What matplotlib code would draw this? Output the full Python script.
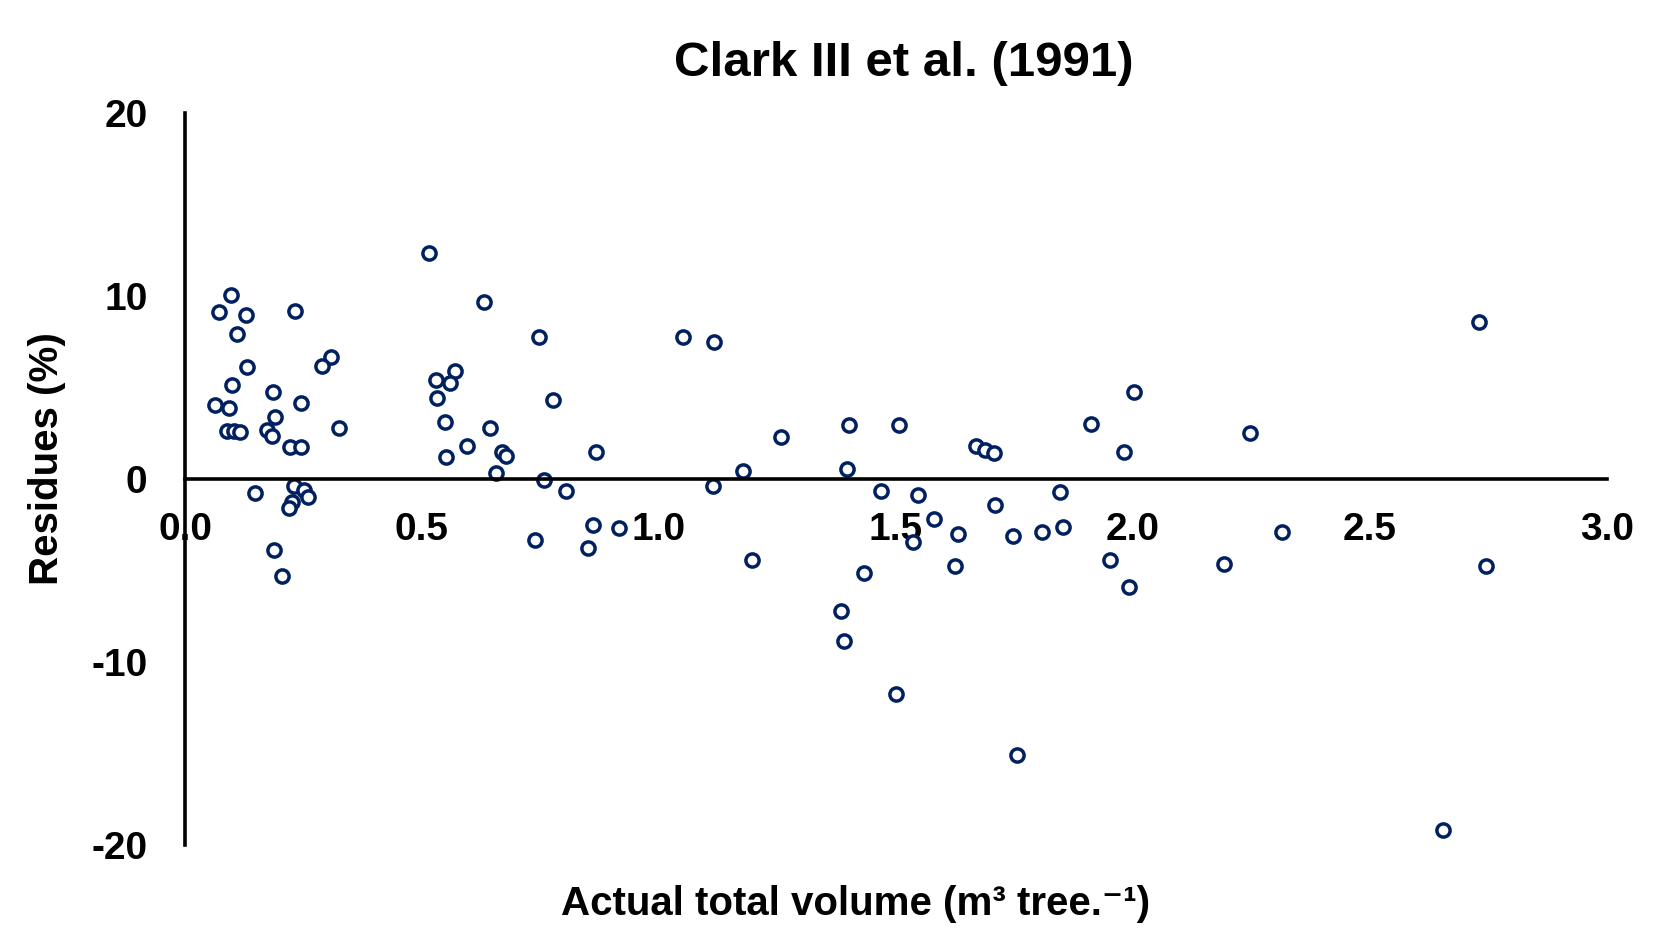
import matplotlib
matplotlib.use("Agg")
import matplotlib.pyplot as plt
from matplotlib.ticker import FormatStrFormatter

plt.rcParams['font.family'] = ['Liberation Sans', 'DejaVu Sans']
plt.rcParams['font.weight'] = 'bold'
plt.rcParams['axes.unicode_minus'] = False

title = "Clark III et al. (1991)"
xlabel = "Actual total volume (m³ tree.⁻¹)"
ylabel = "Residues (%)"

volume = [
    0.515, 0.096, 0.071, 0.128, 0.232, 0.109, 0.630, 0.747, 0.131, 0.307,
    0.290, 0.100, 0.569, 0.530, 0.560, 0.186, 0.532, 0.776, 0.064, 0.092,
    0.245, 0.189, 0.324, 0.549, 0.643, 0.089, 0.103, 0.117, 0.172, 0.183,
    0.595, 0.222, 0.244, 0.550, 0.668, 0.677, 0.868, 0.657, 0.757, 0.803,
    0.148, 0.229, 0.250, 0.259, 0.225, 0.220, 0.860, 0.916, 0.738, 0.851,
    0.188, 0.204,
    1.050, 1.117, 1.257, 1.401, 1.507, 1.668, 1.687, 1.707, 1.178, 1.396,
    1.114, 1.469, 1.546, 1.709, 1.580, 1.809, 1.630, 1.747, 1.536, 1.196,
    1.625, 1.433, 1.384, 1.390, 1.500, 1.755,
    1.847, 1.853, 1.912, 1.982, 2.003, 1.951, 1.992, 2.192, 2.247, 2.314,
    2.653, 2.731, 2.745,
]
residues = [
    12.36, 10.07, 9.14, 8.95, 9.19, 7.95, 9.68, 7.77, 6.13, 6.68,
    6.18, 5.16, 5.90, 5.40, 5.27, 4.78, 4.40, 4.31, 4.07, 3.88,
    4.14, 3.39, 2.81, 3.09, 2.76, 2.61, 2.61, 2.57, 2.67, 2.34,
    1.83, 1.77, 1.77, 1.22, 1.48, 1.24, 1.48, 0.35, -0.07, -0.65,
    -0.76, -0.38, -0.62, -0.98, -1.25, -1.56, -2.53, -2.68, -3.35, -3.75,
    -3.90, -5.32,
    7.77, 7.50, 2.29, 2.93, 2.93, 1.80, 1.56, 1.41, 0.43, 0.53,
    -0.37, -0.63, -0.88, -1.43, -2.21, -2.87, -3.01, -3.11, -3.44, -4.45,
    -4.77, -5.14, -7.23, -8.87, -11.74, -15.10,
    -0.73, -2.63, 2.98, 1.49, 4.75, -4.45, -5.92, -4.65, 2.51, -2.88,
    -19.2, 8.59, -4.75,
]
xticks = [0.0, 0.5, 1.0, 1.5, 2.0, 2.5, 3.0]
yticks = [-20, -10, 0, 10, 20]

W, H = 1657, 943
fig = plt.figure(figsize=(W / 100, H / 100), dpi=100)
ax = fig.add_axes([185 / W, 1 - 845 / H, (1607 - 185) / W, (845 - 113) / H])

ax.plot(volume, residues, linestyle='none', marker='o', ms=9.5, mew=2.5,
        mfc='white', mec='#002060', clip_on=False, zorder=3)

ax.set_xlim(0, 3.0)
ax.set_ylim(-20, 20)
ax.set_xticks(xticks)
ax.set_yticks(yticks)
ax.xaxis.set_major_formatter(FormatStrFormatter('%.1f'))

for s in ['top', 'right']:
    ax.spines[s].set_visible(False)
ax.spines['bottom'].set_position(('data', 0))
for s in ['left', 'bottom']:
    ax.spines[s].set_linewidth(2.6)
    ax.spines[s].set_zorder(5)

ax.tick_params(axis='both', length=0, labelsize=28)
ax.tick_params(axis='x', pad=24)
ax.tick_params(axis='y', pad=27)
for lab in ax.get_xticklabels() + ax.get_yticklabels():
    lab.set_fontweight('bold')

fig.text(904 / W, 1 - 76 / H, title, ha='center', va='baseline',
         fontsize=35.5, fontweight='bold')
fig.text(856 / W, 1 - 915 / H, xlabel, ha='center', va='baseline',
         fontsize=29, fontweight='bold')
fig.text(47 / W, 1 - 459 / H, ylabel, ha='center', va='center',
         rotation=90, fontsize=29, fontweight='bold')

fig.savefig('out.png', dpi=100, facecolor='white')
